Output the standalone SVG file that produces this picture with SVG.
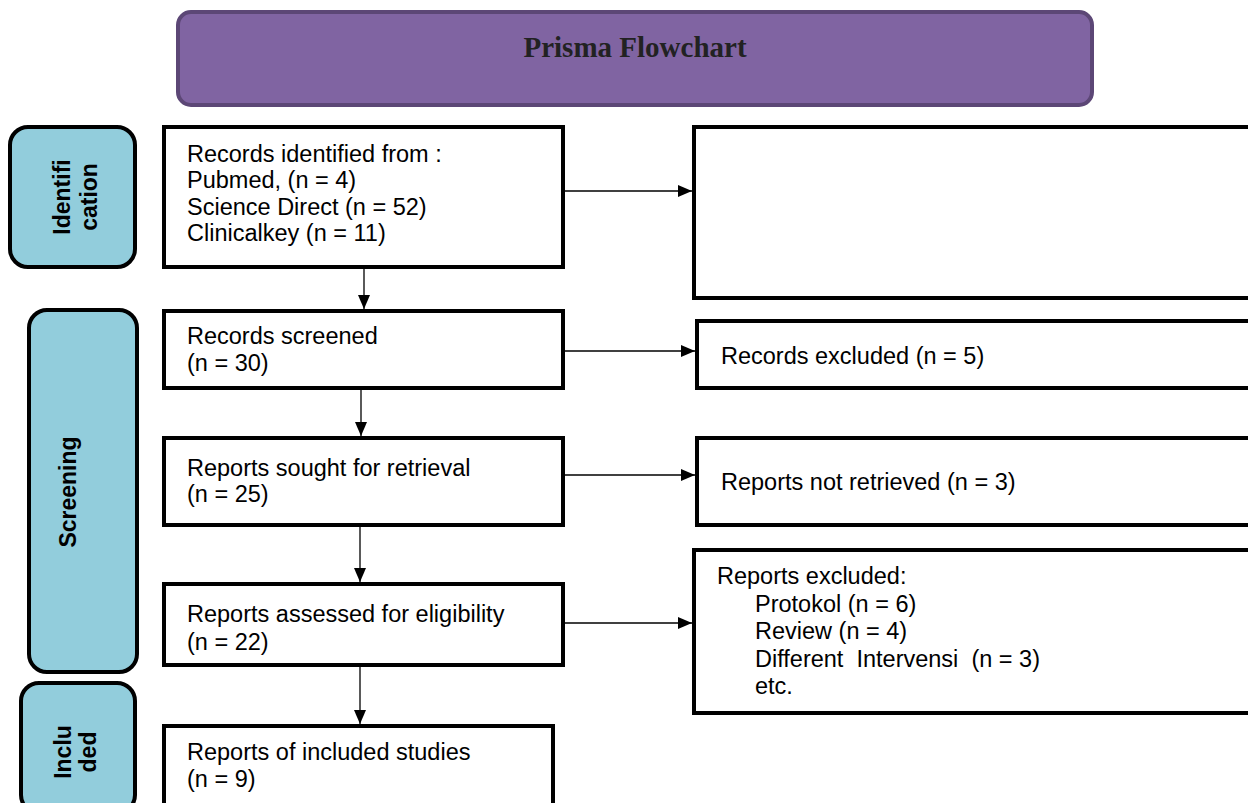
<svg xmlns="http://www.w3.org/2000/svg" width="1248" height="803" viewBox="0 0 1248 803">
<style>
.box{fill:#fff;stroke:#000;stroke-width:4}
.side{fill:#92cddc;stroke:#000;stroke-width:4}
.t{font-family:"Liberation Sans",Arial,sans-serif;font-size:23.5px;fill:#000}
.s{font-family:"Liberation Sans",Arial,sans-serif;font-size:23px;font-weight:bold;fill:#000;text-anchor:middle}
.c{stroke:#000;stroke-width:1.3;fill:none;marker-end:url(#ah)}
</style>
<defs>
<marker id="ah" markerWidth="14" markerHeight="12" refX="14" refY="6" orient="auto" markerUnits="userSpaceOnUse">
<path d="M0,0 L14,6 L0,12 Z" fill="#000"/>
</marker>
</defs>
<rect width="1248" height="803" fill="#fff"/>
<g id="title">
<rect x="178" y="12" width="914" height="93" rx="13" fill="#8064a2" stroke="#5c4776" stroke-width="4"/>
<text x="635" y="57" font-family="'Liberation Serif','Times New Roman',serif" font-size="29" font-weight="bold" fill="#222" text-anchor="middle">Prisma Flowchart</text>
</g>
<g id="identification">
<rect class="side" x="10" y="127" width="125" height="140" rx="18"/>
<text class="s" transform="translate(70,197) rotate(-90)">Identifi</text>
<text class="s" transform="translate(97,197) rotate(-90)">cation</text>
</g>
<g id="screening">
<rect class="side" x="29" y="310" width="108" height="362" rx="18"/>
<text class="s" transform="translate(76,492) rotate(-90)">Screening</text>
</g>
<g id="included">
<rect class="side" x="21" y="683" width="114" height="130" rx="18"/>
<text class="s" transform="translate(71,752) rotate(-90)">Inclu</text>
<text class="s" transform="translate(96,752) rotate(-90)">ded</text>
</g>
<g id="n1">
<rect class="box" x="164" y="127" width="399" height="140"/>
<text class="t" x="187" y="162">Records identified from :</text>
<text class="t" x="187" y="188">Pubmed, (n = 4)</text>
<text class="t" x="187" y="215">Science Direct (n = 52)</text>
<text class="t" x="187" y="241">Clinicalkey (n = 11)</text>
</g>
<g id="r1">
<rect class="box" x="694" y="127" width="570" height="171"/>
</g>
<g id="n2">
<rect class="box" x="164" y="311" width="399" height="77"/>
<text class="t" x="187" y="344">Records screened</text>
<text class="t" x="187" y="371">(n = 30)</text>
</g>
<g id="r2">
<rect class="box" x="697" y="321" width="567" height="67"/>
<text class="t" x="721" y="364">Records excluded (n = 5)</text>
</g>
<g id="n3">
<rect class="box" x="164" y="438" width="399" height="87"/>
<text class="t" x="187" y="476">Reports sought for retrieval</text>
<text class="t" x="187" y="502">(n = 25)</text>
</g>
<g id="r3">
<rect class="box" x="697" y="438" width="567" height="87"/>
<text class="t" x="721" y="490">Reports not retrieved (n = 3)</text>
</g>
<g id="n4">
<rect class="box" x="164" y="584" width="399" height="81"/>
<text class="t" x="187" y="622">Reports assessed for eligibility</text>
<text class="t" x="187" y="650">(n = 22)</text>
</g>
<g id="r4">
<rect class="box" x="694" y="550" width="570" height="163"/>
<text class="t" x="717" y="584">Reports excluded:</text>
<text class="t" x="755" y="612">Protokol (n = 6)</text>
<text class="t" x="755" y="639">Review (n = 4)</text>
<text class="t" x="755" y="667" xml:space="preserve">Different  Intervensi  (n = 3)</text>
<text class="t" x="755" y="694">etc.</text>
</g>
<g id="n5">
<rect class="box" x="164" y="726" width="389" height="90"/>
<text class="t" x="187" y="760">Reports of included studies</text>
<text class="t" x="187" y="787">(n = 9)</text>
</g>
<g id="connectors">
<line class="c" x1="565" y1="191" x2="692" y2="191"/>
<line class="c" x1="364" y1="269" x2="364" y2="309"/>
<line class="c" x1="565" y1="351" x2="695" y2="351"/>
<line class="c" x1="361" y1="390" x2="361" y2="436"/>
<line class="c" x1="565" y1="475" x2="695" y2="475"/>
<line class="c" x1="360" y1="527" x2="360" y2="582"/>
<line class="c" x1="565" y1="623" x2="692" y2="623"/>
<line class="c" x1="360" y1="667" x2="360" y2="724"/>
</g>
</svg>
